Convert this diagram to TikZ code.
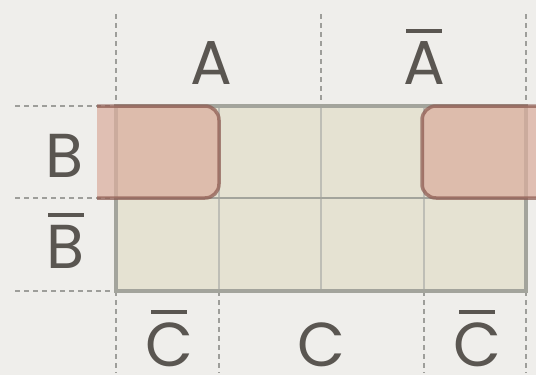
\documentclass[tikz,border=0pt]{standalone}
\usepackage{fontspec}
\setmainfont{Poppins}
\definecolor{bg}{HTML}{EFEEEB}
\definecolor{cell}{HTML}{E5E2D2}
\definecolor{gridline}{HTML}{A3A49C}
\definecolor{innerline}{HTML}{BEBEB6}
\definecolor{dash}{HTML}{9E9E9A}
\definecolor{txt}{HTML}{5A5651}
\definecolor{hlfill}{HTML}{DBAE9E}
\definecolor{hlline}{HTML}{8C5A50}
\newcommand\barred[1]{\setbox0\hbox{#1}\vbox{\offinterlineskip\hbox to\wd0{\hss\vrule width 36pt height 4pt depth 0pt\hss}\kern 8pt\hbox{\box0}}}
\tikzset{
  guide/.style={draw=dash, line width=2.8pt, dash pattern=on 5pt off 4pt},
  lbl/.style={font=\fontsize{62}{62}\selectfont, text=txt, anchor=base, inner sep=0pt},
  hlbox/.style={fill=hlfill, draw=hlline, line width=3.5pt, rounded corners=14pt, opacity=0.72}
}
\begin{document}
\begin{tikzpicture}[x=1pt, y=-1pt]
\fill[bg] (0,0) rectangle (536,375);
\useasboundingbox (0,0) rectangle (536,375);
% guides
\coordinate (t1) at (116,14); \coordinate (t2) at (321,14); \coordinate (t3) at (526,14);
\coordinate (g1) at (116,106); \coordinate (g2) at (321,106); \coordinate (g3) at (526,106);
\draw[guide] (t1) -- (g1);
\draw[guide] (t2) -- (g2);
\draw[guide] (t3) -- (g3);
\coordinate (l1) at (15,106); \coordinate (l2) at (15,198); \coordinate (l3) at (15,291);
\coordinate (m1) at (116,106); \coordinate (m2) at (116,198); \coordinate (m3) at (116,291);
\draw[guide] (l1) -- (m1);
\draw[guide] (l2) -- (m2);
\draw[guide] (l3) -- (m3);
\coordinate (b1) at (116,291); \coordinate (b2) at (219,291); \coordinate (b3) at (424,291); \coordinate (b4) at (526,291);
\coordinate (e1) at (116,373); \coordinate (e2) at (219,373); \coordinate (e3) at (424,373); \coordinate (e4) at (526,373);
\draw[guide] (b1) -- (e1);
\draw[guide] (b2) -- (e2);
\draw[guide] (b3) -- (e3);
\draw[guide] (b4) -- (e4);
% grid
\fill[cell] (116,106) rectangle (526,291);
\draw[innerline, line width=2pt] (219,106) -- (219,291) (321,106) -- (321,291) (424,106) -- (424,291);
\draw[gridline, line width=2.5pt] (116,198) -- (526,198);
\draw[gridline, line width=4pt] (116,106) rectangle (526,291);
% highlight groups
\path[hlbox] (97,106) -- (219,106) -- (219,198) -- (97,198);
\path[hlbox] (545,106) -- (422,106) -- (422,198) -- (545,198);
% labels
\node[lbl] (A) at (211,84) {A};
\node[lbl] (nA) at (424,84) {\barred{A}};
\node[lbl] (B) at (65,177) {B};
\node[lbl] (nB) at (66,268) {\barred{B}};
\node[lbl] (nC1) at (169,366) {\barred{C}};
\node[lbl] (C) at (321,366) {C};
\node[lbl] (nC2) at (477,366) {\barred{C}};
\end{tikzpicture}
\end{document}
